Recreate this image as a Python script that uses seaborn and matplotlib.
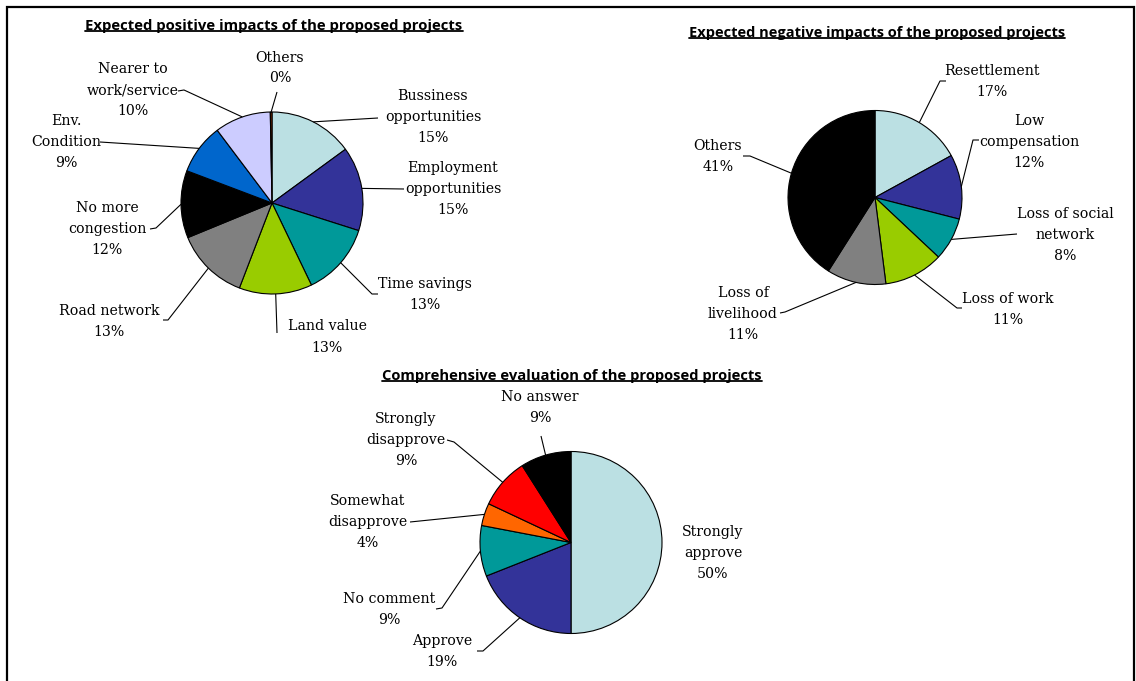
import matplotlib
matplotlib.use("Agg")
import matplotlib.pyplot as plt
import seaborn as sns
import numpy as np

# ---------------------------------------------------------------- data
pos_labels = ["Bussiness\nopportunities", "Employment\nopportunities", "Time savings",
              "Land value", "Road network", "No more\ncongestion", "Env.\nCondition",
              "Nearer to\nwork/service", "Others"]
pos_values = [15, 15, 13, 13, 13, 12, 9, 10, 0.3]
pos_colors = ["#BBE0E3", "#333399", "#009999", "#99CC00", "#808080", "#000000",
              "#0066CC", "#CCCCFF", "#993300"]

neg_labels = ["Resettlement", "Low\ncompensation", "Loss of social\nnetwork",
              "Loss of work", "Loss of\nlivelihood", "Others"]
neg_values = [17, 12, 8, 11, 11, 41]
neg_colors = ["#BBE0E3", "#333399", "#009999", "#99CC00", "#808080", "#000000"]

eval_labels = ["Strongly\napprove", "Approve", "No comment", "Somewhat\ndisapprove",
               "Strongly\ndisapprove", "No answer"]
eval_values = [50, 19, 9, 4, 9, 9]
eval_colors = ["#BBE0E3", "#333399", "#009999", "#FF6600", "#FF0000", "#000000"]

titles = ["Expected positive impacts of the proposed projects",
          "Expected negative impacts of the proposed projects",
          "Comprehensive evaluation of the proposed projects"]

# ---------------------------------------------------------------- layout (pixels, y down)
W, H = 1136, 681
LABEL_FONT = "DejaVu Serif"
LABEL_SIZE = 10.2
LINE_STEP = 21
TITLE_FONT = ["Open Sans", "DejaVu Sans"]

pos_layout = dict(center=(272, 203), radius=91, title=(274, 26, 378),
                  text=[(433, 117), (453, 189), (425, 294.5), (327, 337), (109, 321.5),
                        (107, 229), (66, 142), (133, 90), (280, 68)],
                  leader=[[(378, 118)], [(404, 189)], [(378, 294), (372, 294)],
                          [(277, 333)], [(163, 320), (168, 320)], [(150, 229), (156, 228)],
                          [(100, 142)], [(178, 91), (184, 90)], [(277, 92)]])
neg_layout = dict(center=(875, 197.5), radius=87, title=(877, 33, 378),
                  text=[(992, 81.5), (1029, 142), (1065, 235), (1008, 309.5),
                        (743, 314), (718, 156.5)],
                  leader=[[(946, 81), (940, 81)], [(979, 140), (973, 140)], [(1017, 234)],
                          [(962, 308), (957, 308)], [(780, 313), (785, 312)],
                          [(743, 156), (750, 156)]])
eval_layout = dict(center=(571, 542.5), radius=91, title=(572, 376, 381),
                   text=[(713, 553), (442, 651.5), (389, 609.5), (368, 522),
                         (406, 440), (540, 407.5)],
                   leader=[None, [(477, 651), (483, 651)], [(436, 609), (442, 608)],
                           [(410, 522)], [(447, 440), (454, 442)], [(541, 436)]])

# ---------------------------------------------------------------- figure
sns.set_theme(style="white")
plt.rcParams["font.family"] = ["DejaVu Sans"]

fig = plt.figure(figsize=(W / 100, H / 100), dpi=100)
fig.patch.set_facecolor("white")
ax = fig.add_axes([0, 0, 1, 1])
ax.set_xlim(0, W)
ax.set_ylim(0, H)
ax.set_axis_off()


def Y(y):
    return H - y


def draw_pie(values, labels, colors, layout):
    cx, cy = layout["center"]
    r = layout["radius"]
    palette = sns.color_palette(colors)
    wedges, _ = ax.pie(values, colors=palette, startangle=90, counterclock=False,
                       center=(cx, Y(cy)), radius=r, frame=True,
                       wedgeprops=dict(edgecolor="black", linewidth=0.8))
    total = float(sum(values))
    for w, lab, val, (tx, ty), pts in zip(wedges, labels, values,
                                          layout["text"], layout["leader"]):
        lines = lab.split("\n") + [f"{round(100 * val / total):d}%"]
        n = len(lines)
        for i, s in enumerate(lines):
            yy = ty + (i - (n - 1) / 2) * LINE_STEP
            ax.text(tx, Y(yy), s, ha="center", va="center", fontsize=LABEL_SIZE,
                    family=LABEL_FONT, color="black")
        if pts is None:
            continue
        mid = np.deg2rad((w.theta1 + w.theta2) / 2)
        ex, ey = cx + r * np.cos(mid), Y(cy) + r * np.sin(mid)
        xs = [p[0] for p in pts] + [ex]
        ys = [Y(p[1]) for p in pts] + [ey]
        ax.plot(xs, ys, color="black", lw=0.8, solid_capstyle="butt")


draw_pie(pos_values, pos_labels, pos_colors, pos_layout)
draw_pie(neg_values, neg_labels, neg_colors, neg_layout)
draw_pie(eval_values, eval_labels, eval_colors, eval_layout)

ax.set_xlim(0, W)
ax.set_ylim(0, H)
ax.set_aspect("equal")
ax.set_axis_off()

# ---------------------------------------------------------------- underlined titles
fig.canvas.draw()
renderer = fig.canvas.get_renderer()
for title, layout in zip(titles, [pos_layout, neg_layout, eval_layout]):
    tx, ty, width = layout["title"]
    t = ax.text(tx, Y(ty), title, ha="center", va="center", fontsize=10,
                fontweight="bold", family=TITLE_FONT, color="black")
    w = t.get_window_extent(renderer).width
    t.set_fontsize(10 * width / w)
    bb = t.get_window_extent(renderer)
    inv = ax.transData.inverted()
    (x0, y0), (x1, _) = inv.transform([(bb.x0, bb.y0), (bb.x1, bb.y1)])
    ax.plot([x0, x1], [y0 + 2, y0 + 2], color="black", lw=1.3)

# ---------------------------------------------------------------- frame (open at the bottom)
ax.plot([7, 7, 1134, 1134], [0, Y(7), Y(7), 0], color="black", lw=1.6,
        solid_joinstyle="miter")

fig.savefig("out.png", dpi=100, facecolor="white")
